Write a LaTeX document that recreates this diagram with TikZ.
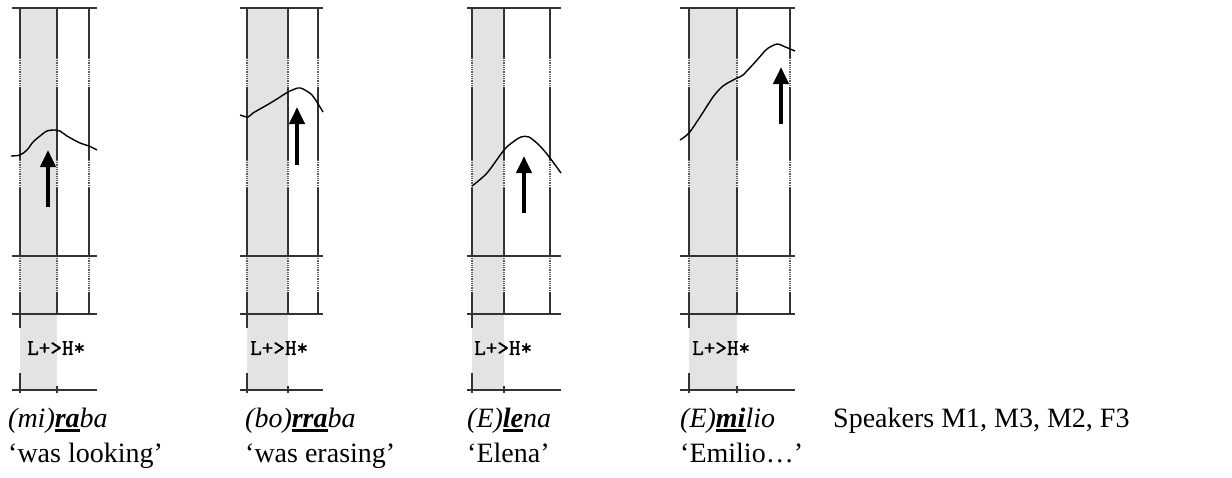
\documentclass[tikz,border=0pt]{standalone}
\usepackage{fontspec}
\setmainfont{Liberation Serif}
\newfontfamily\tonefont[FakeBold=1.2]{Latin Modern Mono}
\usetikzlibrary{arrows.meta}
\definecolor{panelgray}{HTML}{E3E3E3}
\definecolor{gridc}{HTML}{333333}
\newcommand\ulsyl[1]{\setbox0\hbox{\textbf{\textit{#1}}}\rlap{\rule[-5pt]{\wd0}{3pt}}\box0}
\newcommand\drawpanel[5]{%
  \fill[panelgray] (#3,8) rectangle (#4,390);
  \foreach \vx in {#3,#4,#5} {
    \draw[gridline] (\vx,8) -- (\vx,58);
    \draw[dotline] (\vx,58) -- (\vx,87);
    \draw[gridline] (\vx,87) -- (\vx,160);
    \draw[dotline] (\vx,160) -- (\vx,188);
    \draw[gridline] (\vx,188) -- (\vx,256);
    \draw[dotline] (\vx,256) -- (\vx,292);
    \draw[gridline] (\vx,292) -- (\vx,314);
  }
  \draw[gridline] (#3,314) -- (#3,328);
  \draw[gridline] (#3,373) -- (#3,393);
  \draw[gridline] (#4,386) -- (#4,393);
  \draw[gridline] (#1,8) -- (#2,8);
  \draw[gridline] (#1,256) -- (#2,256);
  \draw[gridline] (#1,314) -- (#2,314);
  \draw[gridline] (#1,390) -- (#2,390);
}
\begin{document}
\begin{tikzpicture}[x=1pt,y=-1pt,
  gridline/.style={draw=gridc,line width=1.8pt},
  dotline/.style={draw=gridc!80,line width=1.6pt,dash pattern=on 0.8pt off 1pt},
  contour/.style={draw=black,line width=1.4pt},
  arr/.style={draw=black,line width=4pt,-{Triangle[width=15pt,length=17pt]}},
  word/.style={anchor=base west,inner sep=0pt,font=\fontsize{28}{33}\selectfont},
  tone/.style={anchor=west,inner sep=0pt,font=\fontsize{22.5}{26}\selectfont\tonefont}]
\useasboundingbox (0,0) rectangle (1232,477);
\fill[white] (0,0) rectangle (1232,477);

% panel 1
\drawpanel{12}{97}{20}{57}{89}
\draw[contour] plot[smooth,tension=0.5] coordinates {(11,156) (20,155) (27,150) (33,142) (40,136) (47,131) (55,130) (60,131) (67,136) (80,143) (89,146) (97,150)};
\coordinate (a1s) at (48,207);
\coordinate (a1e) at (48,150);
\draw[arr] (a1s) -- (a1e);
\node[tone] (t1) at (27,348) {L+>H*};

% panel 2
\drawpanel{240}{323}{247}{288}{318}
\draw[contour] plot[smooth,tension=0.5] coordinates {(240,115) (248,117) (253,113) (267,105) (277,99) (288,92) (298,88) (303,89) (312,95) (320,107) (323,112)};
\coordinate (a2s) at (297,165);
\coordinate (a2e) at (297,107);
\draw[arr] (a2s) -- (a2e);
\node[tone] (t2) at (250,348) {L+>H*};

% panel 3
\drawpanel{467}{561}{472}{504}{550}
\draw[contour] plot[smooth,tension=0.5] coordinates {(472,186) (487,173) (504,150) (513,142) (521,137) (529,137) (540,146) (550,158) (561,173)};
\coordinate (a3s) at (524,213);
\coordinate (a3e) at (524,156);
\draw[arr] (a3s) -- (a3e);
\node[tone] (t3) at (474,348) {L+>H*};

% panel 4
\drawpanel{680}{795}{689}{737}{790}
\draw[contour] plot[smooth,tension=0.5] coordinates {(680,140) (689,133) (700,117) (713,97) (723,86) (737,78) (743,75) (757,60) (767,49) (777,44) (783,46) (795,51)};
\coordinate (a4s) at (781,124);
\coordinate (a4e) at (781,67);
\draw[arr] (a4s) -- (a4e);
\node[tone] (t4) at (692,348) {L+>H*};

% texts
\node[word] (w1) at (8,427) {\textit{(mi)}\ulsyl{ra}\textit{ba}};
\node[word] (g1) at (8,462) {‘was looking’};
\node[word] (w2) at (245,427) {\textit{(bo)}\ulsyl{rra}\textit{ba}};
\node[word] (g2) at (245,462) {‘was erasing’};
\node[word] (w3) at (467,427) {\textit{(E)}\ulsyl{le}\textit{na}};
\node[word] (g3) at (467,462) {‘Elena’};
\node[word] (w4) at (680,427) {\textit{(E)}\ulsyl{mi}\textit{lio}};
\node[word] (g4) at (680,462) {‘Emilio…’};
\node[word] (sp) at (833,427) {Speakers M1, M3, M2, F3};
\end{tikzpicture}
\end{document}
